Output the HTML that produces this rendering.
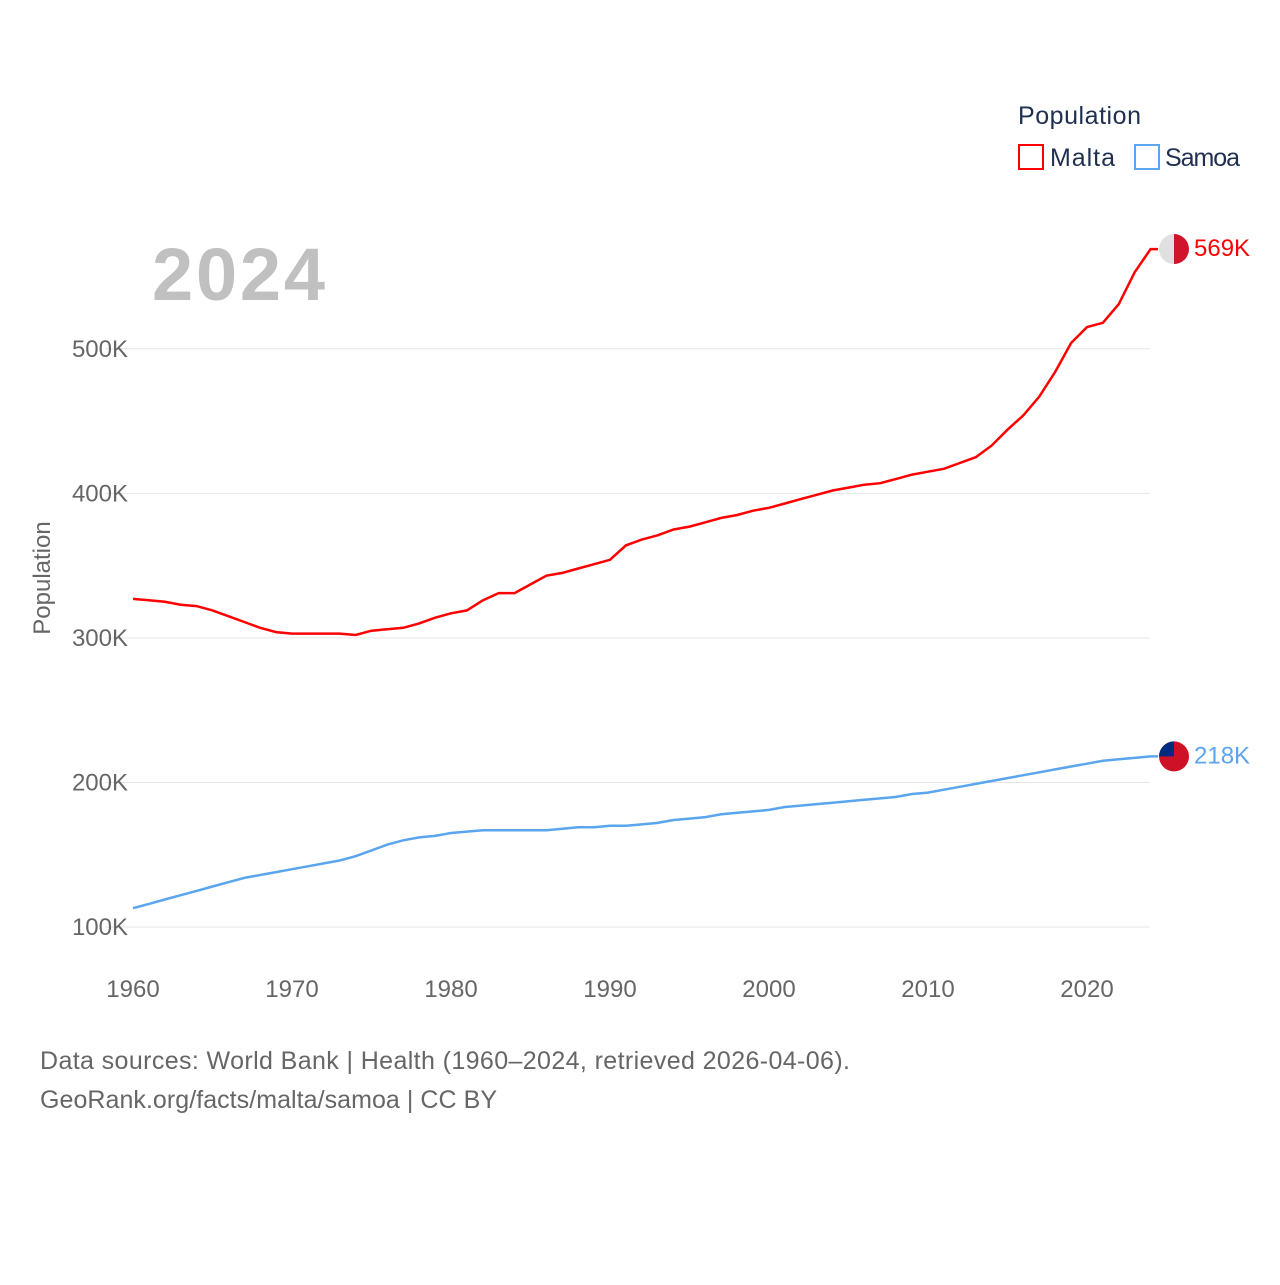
<!DOCTYPE html>
<html><head><meta charset="utf-8"><style>
body{margin:0;background:#fff;font-family:"Liberation Sans",sans-serif}
svg text{font-family:"Liberation Sans",sans-serif}
</style></head><body>
<svg id="chart" width="1280" height="1280" viewBox="0 0 1280 1280">
<text x="1018" y="124" font-size="25" fill="#1f2f4f" textLength="123">Population</text>
<g><rect x="1019" y="145" width="24" height="24" fill="none" stroke="#ff0000" stroke-width="2"/><text x="1050" y="166" font-size="25" fill="#1f2f4f" textLength="65">Malta</text></g>
<g><rect x="1135" y="145" width="24" height="24" fill="none" stroke="#5aa5ee" stroke-width="2"/><text x="1165" y="166" font-size="25" fill="#1f2f4f" textLength="75">Samoa</text></g>
<text x="152" y="300" font-size="74" font-weight="bold" fill="#c0c0c0" textLength="173">2024</text>
<text transform="translate(50,578) rotate(-90)" text-anchor="middle" font-size="24" fill="#666">Population</text>
<g id="grid"></g><g id="xt"></g><g id="lines"></g>
<text x="40" y="1069" font-size="25" fill="#666" textLength="810">Data sources: World Bank | Health (1960–2024, retrieved 2026-04-06).</text>
<text x="40" y="1108" font-size="25" fill="#666" textLength="457">GeoRank.org/facts/malta/samoa | CC BY</text>
</svg>
<script>
const years=[];for(let y=1960;y<=2024;y++)years.push(y);
const malta=[327,326,325,323,322,319,315,311,307,304,303,303,303,303,302,305,306,307,310,314,317,319,326,331,331,337,343,345,348,351,354,364,368,371,375,377,380,383,385,388,390,393,396,399,402,404,406,407,410,413,415,417,421,425,433,444,454,467,484,504,515,518,531,553,569];
const samoa=[113,116,119,122,125,128,131,134,136,138,140,142,144,146,149,153,157,160,162,163,165,166,167,167,167,167,167,168,169,169,170,170,171,172,174,175,176,178,179,180,181,183,184,185,186,187,188,189,190,192,193,195,197,199,201,203,205,207,209,211,213,215,216,217,218];
const yTicks=[100,200,300,400,500];
const xTicks=[1960,1970,1980,1990,2000,2010,2020];
const NS="http://www.w3.org/2000/svg";
const X=y=>133+(y-1960)*(1087-133)/60;
const Y=v=>927-(v-100)*1.4455;
function mk(t,a,p){const e=document.createElementNS(NS,t);for(const k in a)e.setAttribute(k,a[k]);p.appendChild(e);return e;}
const g=document.getElementById('grid');
yTicks.forEach(v=>{
 const l=mk('line',{x1:105,x2:1150,y1:Y(v),y2:Y(v),stroke:'#e6e6e6','stroke-width':1},g);
 
 
 const t=mk('text',{x:128,y:Y(v)+8,'text-anchor':'end','font-size':24,fill:'#666'},g);
 
 
 t.textContent=v+'K';
});
const xt=document.getElementById('xt');
xTicks.forEach(v=>{
 const t=mk('text',{x:X(v),y:997,'text-anchor':'middle','font-size':24,fill:'#666'},xt);
 
 
 t.textContent=v;
});
const L=document.getElementById('lines');
function series(d,c,name){
 const last=d[d.length-1];const cy=Y(last);
 const p=mk('path',{d:d.map((v,i)=>(i?'L':'M')+X(years[i]).toFixed(1)+','+Y(v).toFixed(1)).join('')+'L1158,'+cy.toFixed(1),fill:'none',stroke:c,'stroke-width':2.5},L);
 
 
 const f=mk('g',{},L);
 
 
 if(name==='malta'){
  mk('circle',{cx:1174,cy:cy,r:15,fill:'#e0e0e0'},f);
  mk('path',{d:`M1174,${cy-15} A15,15 0 0 1 1174,${cy+15} Z`,fill:'#cf142b'},f);
 }else{
  mk('circle',{cx:1174,cy:cy,r:15,fill:'#ce1126'},f);
  mk('path',{d:`M1159,${cy} A15,15 0 0 1 1174,${cy-15} L1174,${cy} Z`,fill:'#002b7f'},f);
 }
 const t=mk('text',{x:1194,y:cy+7,'font-size':24,fill:c},L);
 
 
 t.textContent=last+'K';
}
series(malta,'#ff0000','malta');
series(samoa,'#5aa5ee','samoa');
</script>
</body></html>
